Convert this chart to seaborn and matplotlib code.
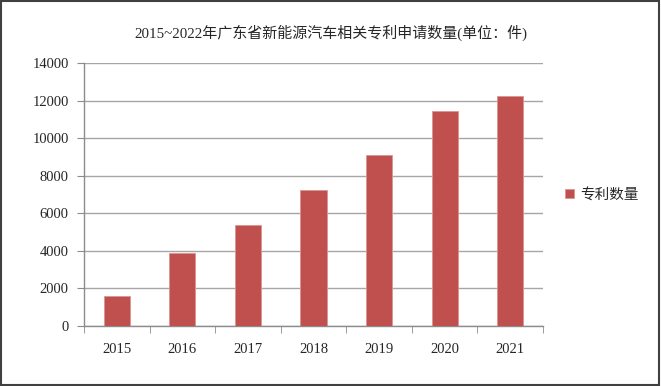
import matplotlib
matplotlib.use("Agg")
import matplotlib.pyplot as plt
import seaborn as sns
import pandas as pd
from matplotlib.patches import Rectangle

years = ["2015", "2016", "2017", "2018", "2019", "2020", "2021"]
patents = [1610, 3880, 5380, 7230, 9090, 11440, 12230]
series_name = "专利数量"
title = "2015~2022年广东省新能源汽车相关专利申请数量(单位：件)"
yticks = [0, 2000, 4000, 6000, 8000, 10000, 12000, 14000]

sns.set_style("white")
plt.rcParams['font.family'] = ['Liberation Serif', 'Noto Sans CJK SC']

df = pd.DataFrame({"year": years, "value": patents, "series": series_name})

fig = plt.figure(figsize=(6.61, 3.86), dpi=100)
ax = fig.add_axes([84/661, 1-326/386, (543-84)/661, (326-63)/386])

sns.barplot(data=df, x="year", y="value", hue="series", palette=["#C0504D"],
            saturation=1, width=0.4, ax=ax, legend=True,
            edgecolor="#D99694", linewidth=0.6, zorder=3)

ax.set_ylim(0, 14000)
ax.set_yticks(yticks)
ax.set_yticklabels([str(v) for v in yticks], fontsize=10.5, family='Liberation Serif')
ax.set_xlim(-0.5, len(years) - 0.5)
ax.set_xticks(range(len(years)))
ax.set_xticklabels(years, fontsize=10.5, family='Liberation Serif')
ax.set_xlabel("")
ax.set_ylabel("")
ax.yaxis.grid(True, color="#A6A6A6", linewidth=1.0, zorder=0)
ax.set_axisbelow(True)

for s in ["top", "right"]:
    ax.spines[s].set_visible(False)
for s in ["left", "bottom"]:
    ax.spines[s].set_color("#8C8C8C")
    ax.spines[s].set_linewidth(1.0)

ax.tick_params(axis="x", which="major", length=0, pad=12)
ax.set_xticks([i - 0.5 for i in range(len(years) + 1)], minor=True)
ax.tick_params(axis="x", which="minor", length=5, color="#8C8C8C", direction="out", bottom=True)
ax.tick_params(axis="y", which="major", length=5, color="#8C8C8C", direction="out", left=True, pad=6)

leg = ax.legend(loc="center left", bbox_to_anchor=(1.02, 0.5), frameon=False,
                handlelength=0.6, handleheight=0.6, handletextpad=0.4,
                prop={'family': ['Noto Sans CJK SC'], 'size': 10.5})

fig.text(0.5, 1 - 33/386, title, ha="center", va="center", fontsize=10.8,
         family=['Liberation Serif', 'Noto Sans CJK SC'])

fig.patches.append(Rectangle((0.002, 0.003), 0.995, 0.994, transform=fig.transFigure,
                             fill=False, edgecolor="#404040", linewidth=1.5))

fig.savefig("out.png", dpi=100)
